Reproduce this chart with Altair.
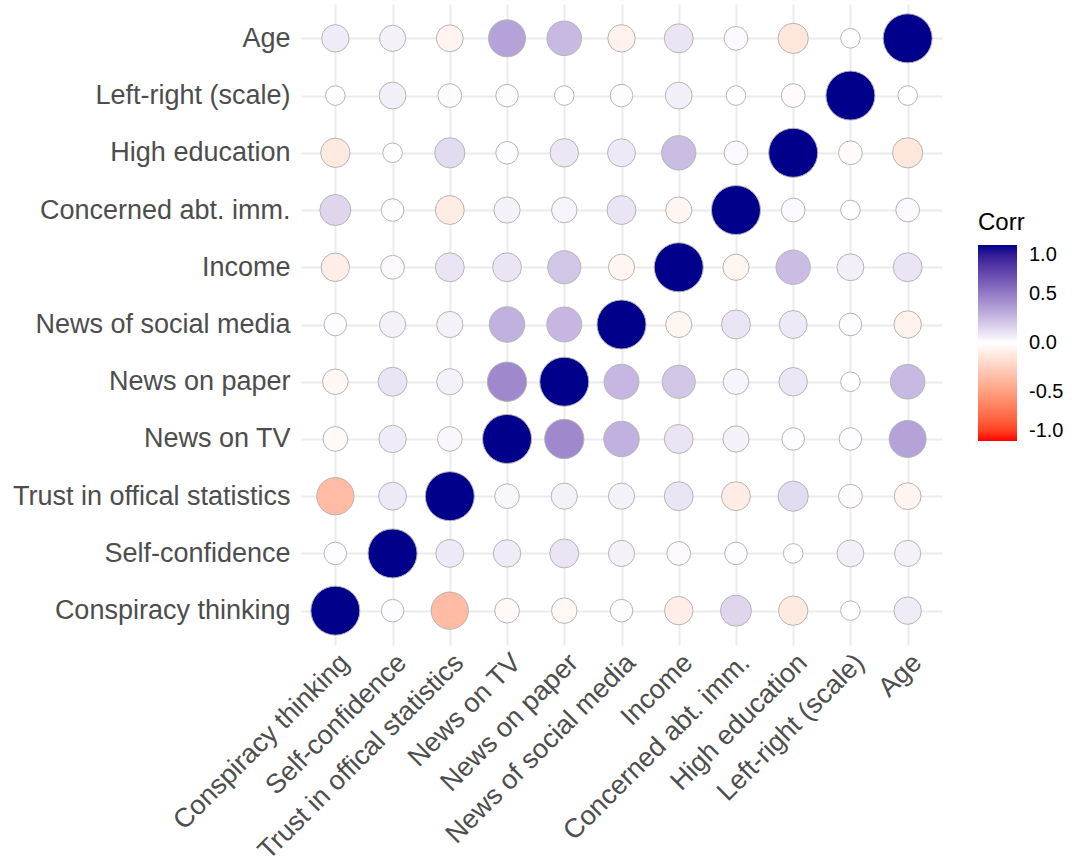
import altair as alt
import pandas as pd

variables = [
    "Conspiracy thinking", "Self-confidence", "Trust in offical statistics",
    "News on TV", "News on paper", "News of social media", "Income",
    "Concerned abt. imm.", "High education", "Left-right (scale)", "Age",
]

# correlation matrix rows (same order as variables)
r_conspiracy = [1.00, 0.01, -0.36, -0.03, -0.04, 0.01, -0.09, 0.15, -0.11, 0.00, 0.07]
r_selfconf   = [0.01, 1.00, 0.08, 0.07, 0.10, 0.05, 0.02, 0.01, 0.00, 0.06, 0.05]
r_trust      = [-0.36, 0.08, 1.00, 0.03, 0.05, 0.05, 0.10, -0.10, 0.13, -0.02, -0.06]
r_tv         = [-0.03, 0.07, 0.03, 1.00, 0.45, 0.29, 0.10, 0.05, 0.01, 0.01, 0.35]
r_paper      = [-0.04, 0.10, 0.05, 0.45, 1.00, 0.27, 0.21, 0.04, 0.09, 0.00, 0.26]
r_social     = [0.01, 0.05, 0.05, 0.29, 0.27, 1.00, -0.05, 0.10, 0.08, 0.01, -0.07]
r_income     = [-0.09, 0.02, 0.10, 0.10, 0.21, -0.05, 1.00, -0.05, 0.25, 0.06, 0.10]
r_concerned  = [0.15, 0.01, -0.10, 0.05, 0.04, 0.10, -0.05, 1.00, 0.02, 0.00, 0.02]
r_education  = [-0.11, 0.00, 0.13, 0.01, 0.09, 0.08, 0.25, 0.02, 1.00, -0.02, -0.13]
r_leftright  = [0.00, 0.06, -0.02, 0.01, 0.00, 0.01, 0.06, 0.00, -0.02, 1.00, 0.00]
r_age        = [0.07, 0.05, -0.06, 0.35, 0.26, -0.07, 0.10, 0.02, -0.13, 0.00, 1.00]

rows = [r_conspiracy, r_selfconf, r_trust, r_tv, r_paper, r_social,
        r_income, r_concerned, r_education, r_leftright, r_age]

records = []
for i, yv in enumerate(variables):
    for j, xv in enumerate(variables):
        records.append({"Var1": xv, "Var2": yv, "Corr": rows[i][j]})
df = pd.DataFrame(records)

FONT = "Liberation Sans"

chart = (
    alt.Chart(df)
    .transform_calculate(
        d="4.9 * (4 + 6 * sqrt(abs(datum.Corr)))"
    )
    .transform_calculate(
        area="datum.d * datum.d"
    )
    .mark_point(filled=True, shape="circle", stroke="#B5B5B5", strokeWidth=1, opacity=1)
    .encode(
        x=alt.X("Var1:N", sort=variables, title=None,
                scale=alt.Scale(type="point", padding=0.6),
                axis=alt.Axis(labelAngle=-45, labelAlign="right", labelBaseline="top",
                              labelPadding=4, grid=True, labelLimit=0)),
        y=alt.Y("Var2:N", sort=list(reversed(variables)), title=None,
                scale=alt.Scale(type="point", padding=0.6),
                axis=alt.Axis(labelPadding=11, grid=True, labelLimit=0)),
        fill=alt.Fill("Corr:Q",
                      scale=alt.Scale(domain=[-1, 0, 1],
                                      range=["#FF0000", "#FFFFFF", "#00008B"],
                                      interpolate="lab"),
                      legend=alt.Legend(title="Corr", orient="none", legendX=677, legendY=207,
                                        values=[-1, -0.5, 0, 0.5, 1],
                                        labelExpr="datum.value < 0 ? '-' + format(-datum.value, '.1f') : format(datum.value, '.1f')",
                                        gradientLength=196, gradientThickness=39,
                                        gradientStrokeWidth=0,
                                        titleFontSize=24, titleFontWeight="normal",
                                        titleColor="black", titlePadding=10,
                                        titleFont=FONT, labelFont=FONT,
                                        labelFontSize=20, labelColor="black",
                                        labelBaseline="middle",
                                        labelOffset=12)),
        size=alt.Size("area:Q", scale=None),
    )
    .properties(
        width=641, height=641,
        autosize=alt.AutoSizeParams(type="none"),
        padding={"left": 301, "top": 4, "right": 130, "bottom": 220},
        background="white",
    )
    .configure_view(stroke=None)
    .configure_axis(domain=False, ticks=False, labelFont=FONT, labelFontSize=27,
                    labelColor="#4D4D4D", gridColor="#EBEBEB", gridWidth=2)
)

chart.save("out.html", embed_options={"renderer": "svg", "actions": False})
